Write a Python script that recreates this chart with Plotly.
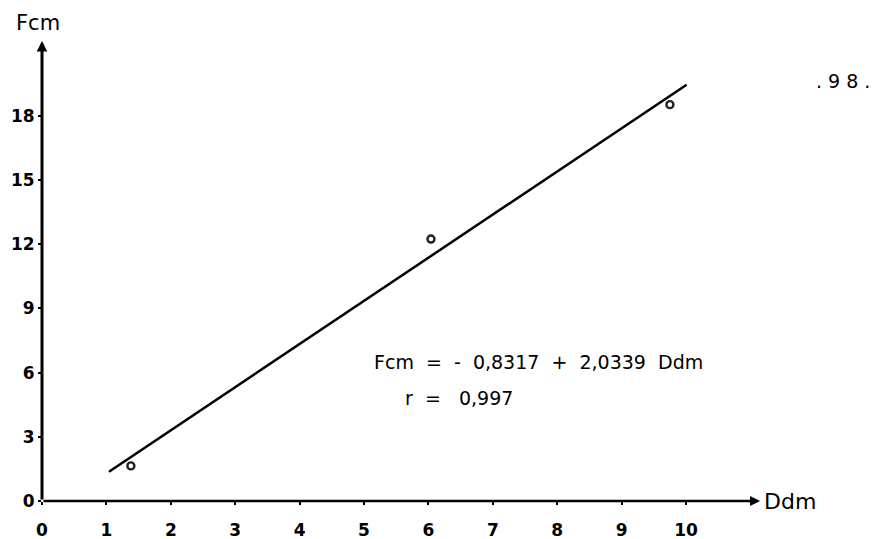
import plotly.graph_objects as go

# Data
ddm_obs = [1.38, 6.04, 9.75]
fcm_obs = [1.64, 12.24, 18.52]
fit_x = [1.04, 10.01]
fit_y = [1.37, 19.45]
x_ticks = [0, 1, 2, 3, 4, 5, 6, 7, 8, 9, 10]
y_ticks = [0, 3, 6, 9, 12, 15, 18]
equation = "Fcm  =  -  0,8317  +  2,0339  Ddm"
r_text = "r  =   0,997"
page_no = ". 9 8 ."

x_axis_end = 11.15
y_axis_end = 21.5

FONT = "DejaVu Sans"

fig = go.Figure()

fig.add_trace(go.Scatter(x=fit_x, y=fit_y, mode="lines",
                         line=dict(color="black", width=2.5),
                         showlegend=False, hoverinfo="skip"))
fig.add_trace(go.Scatter(x=ddm_obs, y=fcm_obs, mode="markers",
                         marker=dict(symbol="circle-open", size=7, color="#222",
                                     line=dict(color="#222", width=2.4)),
                         showlegend=False))

# hand-drawn style axes with arrow heads
fig.add_annotation(x=x_axis_end, y=0, ax=0, ay=0, xref="x", yref="y",
                   axref="x", ayref="y", showarrow=True, arrowhead=2,
                   arrowsize=0.8, arrowwidth=2.5, arrowcolor="black", text="")
fig.add_annotation(x=0, y=y_axis_end, ax=0, ay=0, xref="x", yref="y",
                   axref="x", ayref="y", showarrow=True, arrowhead=2,
                   arrowsize=0.7, arrowwidth=3, arrowcolor="black", text="")

fig.add_annotation(x=x_axis_end, y=0, xref="x", yref="y", text="Ddm",
                   showarrow=False, xanchor="left", yanchor="middle", xshift=2,
                   font=dict(family=FONT, size=22, color="black"))
fig.add_annotation(x=0, y=1, xref="x", yref="paper", text="Fcm",
                   showarrow=False, xanchor="center", yanchor="middle",
                   xshift=-4, yshift=-23,
                   font=dict(family=FONT, size=21, color="black"))

fig.add_annotation(xref="paper", yref="paper", x=(372 - 42) / 836, y=(501 - 362) / 501,
                   text=equation, showarrow=False, xanchor="left", yanchor="middle",
                   font=dict(family=FONT, size=19, color="black"))
fig.add_annotation(xref="paper", yref="paper", x=(403 - 42) / 836, y=(501 - 398) / 501,
                   text=r_text, showarrow=False, xanchor="left", yanchor="middle",
                   font=dict(family=FONT, size=19, color="black"))
fig.add_annotation(xref="paper", yref="paper", x=(814 - 42) / 836, y=(501 - 81) / 501,
                   text=page_no, showarrow=False, xanchor="left", yanchor="middle",
                   font=dict(family=FONT, size=19, color="black"))

tick_font = dict(family=FONT, size=17, color="black", weight="bold")
fig.update_xaxes(range=[0, 836 / 64.4], tickvals=x_ticks, ticks="outside",
                 ticklen=3, tickwidth=1.5, tickcolor="black", showgrid=False,
                 zeroline=False, showline=False, tickfont=tick_font,
                 ticklabelstandoff=11)
fig.update_yaxes(range=[0, 501 / 21.4], tickvals=y_ticks, ticks="outside",
                 ticklen=3, tickwidth=1.5, tickcolor="black", showgrid=False,
                 zeroline=False, showline=False, tickfont=tick_font,
                 ticklabelstandoff=0)

fig.update_layout(width=878, height=539, margin=dict(l=42, r=0, t=0, b=38),
                  paper_bgcolor="white", plot_bgcolor="white")

fig.write_html("out.html")
